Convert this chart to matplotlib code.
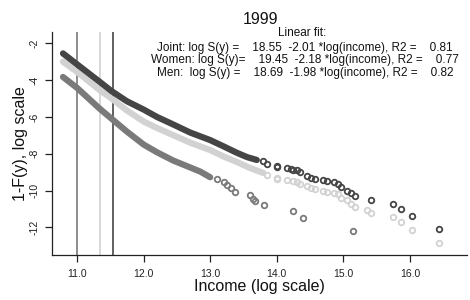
import matplotlib
matplotlib.use("Agg")
import matplotlib.pyplot as plt

plt.rcParams["font.family"] = ["Liberation Sans", "DejaVu Sans"]

# dense part of each curve (drawn as a thick band of overlapping circles)
joint_x = [10.79, 11.0, 11.34, 11.52, 11.75, 12.0, 12.2, 12.45, 12.7, 13.0, 13.2, 13.4, 13.55, 13.7]
joint_y = [-2.55, -3.14, -4.09, -4.6, -5.15, -5.6, -6.0, -6.42, -6.85, -7.26, -7.6, -7.95, -8.18, -8.34]
women_x = [10.79, 11.0, 11.34, 11.52, 11.75, 12.0, 12.2, 12.45, 12.7, 13.0, 13.2, 13.4, 13.6, 13.8]
women_y = [-3.0, -3.55, -4.54, -5.0, -5.65, -6.25, -6.6, -7.0, -7.4, -7.8, -8.15, -8.45, -8.78, -9.05]
men_x = [10.79, 11.0, 11.34, 11.52, 11.75, 12.0, 12.2, 12.45, 12.6, 12.85, 13.0]
men_y = [-3.83, -4.42, -5.55, -6.1, -6.8, -7.5, -7.92, -8.38, -8.6, -8.97, -9.28]

# sparse tail points
joint_tx = [13.8, 13.85, 14.0, 14.0, 14.15, 14.22, 14.25, 14.3, 14.35, 14.45, 14.52, 14.58, 14.7, 14.75,
            14.86, 14.92, 14.96, 15.05, 15.11, 15.18, 15.41, 15.75, 15.87, 16.03, 16.44]
joint_ty = [-8.41, -8.55, -8.68, -8.74, -8.79, -8.85, -8.86, -8.9, -9.0, -9.21, -9.3, -9.36, -9.41, -9.48,
            -9.55, -9.66, -9.8, -10.03, -10.13, -10.3, -10.49, -10.71, -11.0, -11.41, -12.1]
women_tx = [13.85, 14.0, 14.0, 14.15, 14.25, 14.3, 14.35, 14.45, 14.52, 14.58, 14.7, 14.75, 14.86, 14.92,
            14.96, 15.05, 15.11, 15.18, 15.36, 15.41, 15.75, 15.87, 16.03, 16.44]
women_ty = [-9.17, -9.32, -9.38, -9.41, -9.48, -9.55, -9.62, -9.75, -9.88, -9.94, -10.02, -10.07, -10.13, -10.2,
            -10.39, -10.53, -10.71, -10.89, -11.04, -11.24, -11.46, -11.73, -12.15, -12.84]
men_tx = [13.1, 13.2, 13.25, 13.32, 13.37, 13.6, 13.64, 13.67, 13.81, 14.25, 14.4, 15.14]
men_ty = [-9.4, -9.52, -9.7, -9.88, -10.06, -10.24, -10.46, -10.57, -10.81, -11.1, -11.52, -12.22]

vlines = [11.0, 11.34, 11.54]

x_ticks = [11, 12, 13, 14, 15, 16]
x_labels = ["11.0", "12.0", "13.0", "14.0", "15.0", "16.0"]
y_ticks = [-2, -4, -6, -8, -10, -12]

fit_lines = [
    "Joint: log S(y) =    18.55  -2.01 *log(income), R2 =    0.81",
    "Women: log S(y)=    19.45  -2.18 *log(income), R2 =    0.77",
    "Men:  log S(y) =    18.69  -1.98 *log(income), R2 =    0.82",
]

DARK = "#454545"
LIGHT = "#d2d2d2"
MID = "#7a7a7a"

fig = plt.figure(figsize=(4.7, 3.0), dpi=100)
ax = fig.add_axes([52 / 470, 45 / 300, 415 / 470, 223 / 300])

for xv, c in zip(vlines, [MID, LIGHT, DARK]):
    ax.axvline(xv, color=c, lw=1.2, zorder=1)

for (xs, ys, tx, ty, c) in [
    (women_x, women_y, women_tx, women_ty, LIGHT),
    (men_x, men_y, men_tx, men_ty, MID),
    (joint_x, joint_y, joint_tx, joint_ty, DARK),
]:
    ax.plot(xs, ys, color=c, lw=4.5, solid_capstyle="round", solid_joinstyle="round", zorder=2)
    ax.plot(tx, ty, ls="none", marker="o", ms=4.0, mfc="none", mec=c, mew=1.3, zorder=3)

ax.set_xlim(10.625, 16.856)
ax.set_ylim(-13.505, -1.386)
ax.set_xticks(x_ticks)
ax.set_xticklabels(x_labels)
ax.set_yticks(y_ticks)
ax.set_yticklabels([str(v) for v in y_ticks], rotation=90, va="center")
ax.tick_params(direction="out", length=5, width=0.9, labelsize=7.5, colors="#222222")
ax.tick_params(axis="y", pad=4)
ax.tick_params(axis="x", pad=5)

for side in ["top", "right"]:
    ax.spines[side].set_visible(False)
for side in ["left", "bottom"]:
    ax.spines[side].set_linewidth(0.9)
    ax.spines[side].set_color("#222222")

ax.set_xlabel("Income (log scale)", fontsize=11.5, labelpad=0, color="#111111")
ax.set_ylabel("1-F(y), log scale", fontsize=11.5, labelpad=1, color="#111111")

fig.text(260 / 470, 1 - 19 / 300, "1999", ha="center", va="center", fontsize=11.5, color="#111111")
fig.text(302 / 470, 1 - 33 / 300, "Linear fit:", ha="center", va="center", fontsize=8.5, color="#111111")
for i, line in enumerate(fit_lines):
    fig.text(305 / 470, 1 - (48 + i * 12.3) / 300, line, ha="center", va="center",
             fontsize=8.5, color="#111111")

fig.savefig("out.png", dpi=100)
